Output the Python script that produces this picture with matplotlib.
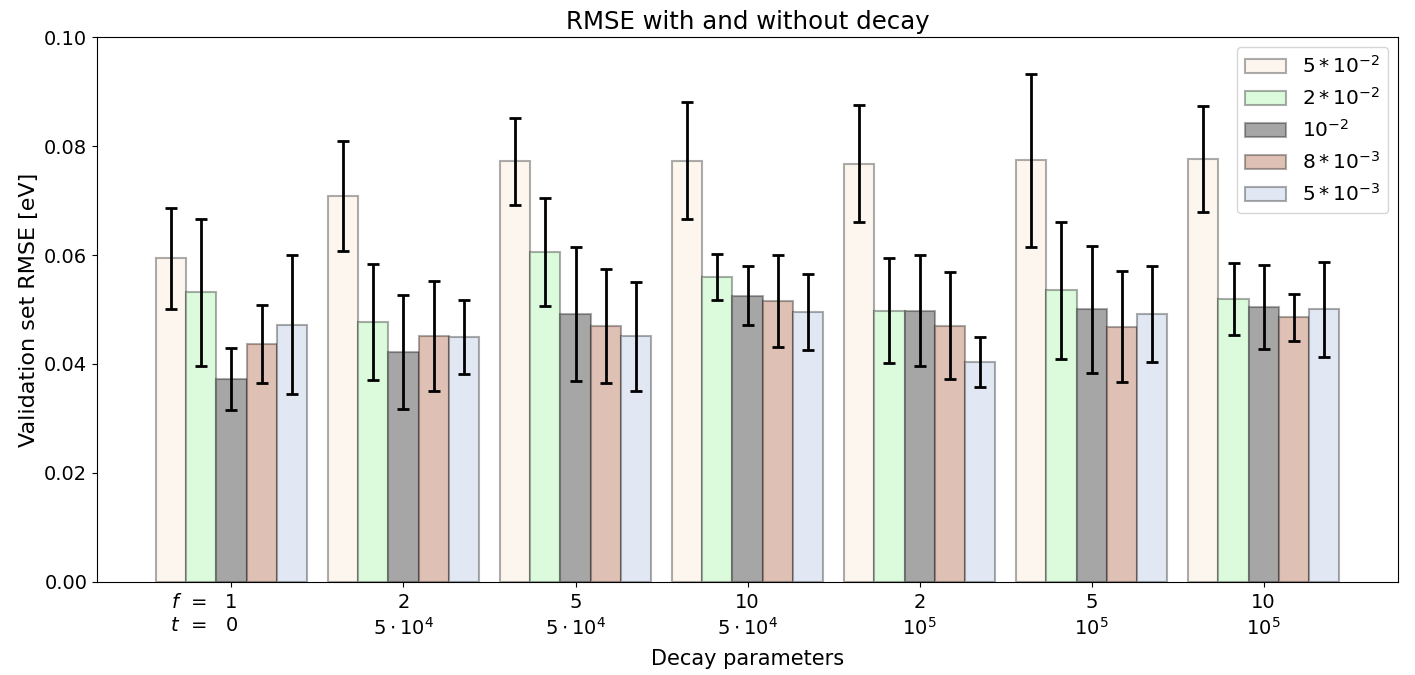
import numpy as np
import matplotlib
matplotlib.use("Agg")
import matplotlib.pyplot as plt

groups_f = ["1", "2", "5", "10", "2", "5", "10"]
groups_t = ["0", r"$5\cdot10^4$", r"$5\cdot10^4$", r"$5\cdot10^4$", r"$10^5$", r"$10^5$", r"$10^5$"]
series_labels = [r"$5*10^{-2}$", r"$2*10^{-2}$", r"$10^{-2}$", r"$8*10^{-3}$", r"$5*10^{-3}$"]

rmse_5e2 = [0.0594, 0.0708, 0.0772, 0.0773, 0.0768, 0.0774, 0.0776]
err_5e2 = [0.0093, 0.0101, 0.0080, 0.0107, 0.0107, 0.0159, 0.0097]
rmse_2e2 = [0.0532, 0.0477, 0.0606, 0.0560, 0.0498, 0.0535, 0.0519]
err_2e2 = [0.0135, 0.0106, 0.0099, 0.0042, 0.0097, 0.0125, 0.0066]
rmse_1e2 = [0.0372, 0.0422, 0.0492, 0.0525, 0.0498, 0.0500, 0.0504]
err_1e2 = [0.0057, 0.0105, 0.0123, 0.0054, 0.0102, 0.0116, 0.0077]
rmse_8e3 = [0.0437, 0.0451, 0.0470, 0.0516, 0.0470, 0.0468, 0.0486]
err_8e3 = [0.0072, 0.0101, 0.0105, 0.0084, 0.0098, 0.0102, 0.0043]
rmse_5e3 = [0.0472, 0.0450, 0.0451, 0.0496, 0.0403, 0.0491, 0.0500]
err_5e3 = [0.0128, 0.0068, 0.0100, 0.0070, 0.0046, 0.0088, 0.0088]

series = [(rmse_5e2, err_5e2), (rmse_2e2, err_2e2), (rmse_1e2, err_1e2),
          (rmse_8e3, err_8e3), (rmse_5e3, err_5e3)]
colors = ["#fdf6ef", "#dcfadc", "#a6a6a6", "#dfc0b4", "#e1e8f3"]

plt.rcParams['font.size'] = 14
fig, ax = plt.subplots(figsize=(14.15, 6.75), dpi=100)
fig.subplots_adjust(left=0.0686, right=0.988, top=0.945, bottom=0.138)

x = np.arange(len(groups_f))
width = 0.175
for i, ((vals, errs), c, lab) in enumerate(zip(series, colors, series_labels)):
    ax.bar(x + (i - 2) * width, vals, width, yerr=errs, color=c, label=lab,
           edgecolor=(0, 0, 0, 0.32), linewidth=1.5,
           error_kw=dict(ecolor="black", elinewidth=2, capsize=4.5, capthick=2))

ax.set_ylim(0, 0.1)
ax.set_yticks(np.arange(0, 0.101, 0.02))
ax.set_xticks(x)
ax.set_xticklabels([f"{f}\n{t}" for f, t in zip(groups_f, groups_t)], linespacing=1.25)
ax.tick_params(axis="x", pad=4.5)
ax.text(-0.145, -0.021, "$f$  =\n$t$  =", transform=ax.get_xaxis_transform(),
        ha="right", va="top", fontsize=14, linespacing=1.25)
ax.set_xlabel("Decay parameters", fontsize=15, labelpad=8)
ax.set_ylabel("Validation set RMSE [eV]", fontsize=16)
ax.set_title("RMSE with and without decay", fontsize=17.6)
ax.legend(loc="upper right", fontsize=14.5)

fig.savefig("out.png", dpi=100)
